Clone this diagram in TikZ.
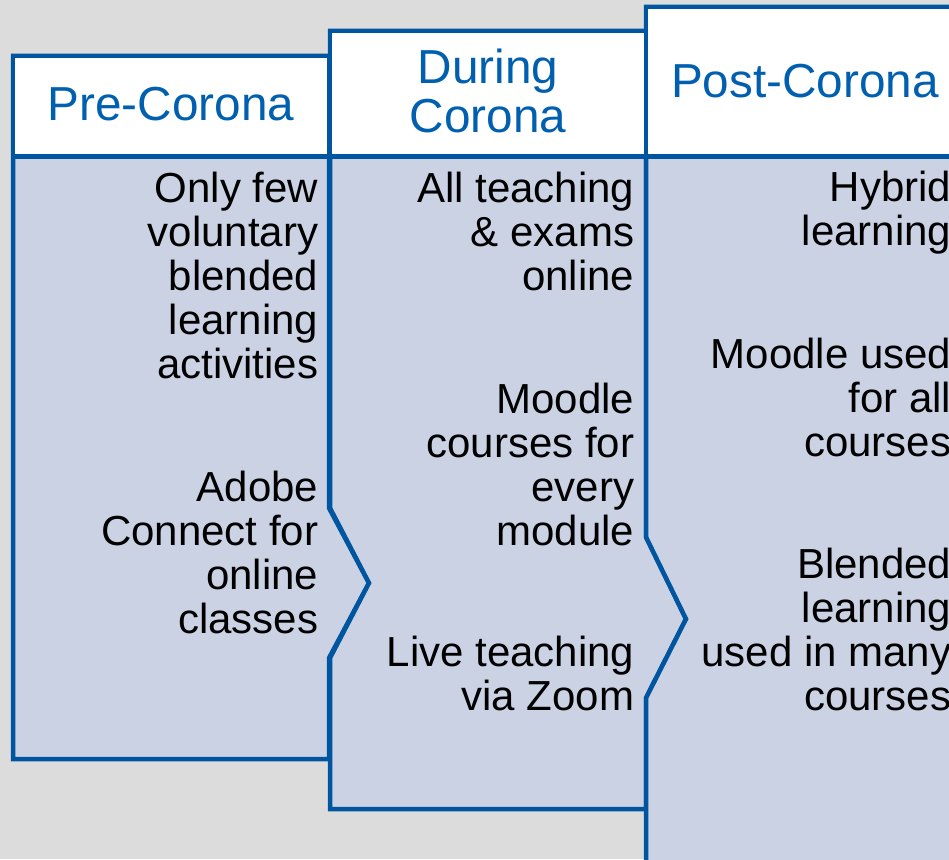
\documentclass[tikz,border=0pt]{standalone}
\usepackage{fontspec}
\setmainfont{Liberation Sans}
\definecolor{bgc}{HTML}{DCDCDC}
\definecolor{edgec}{HTML}{0055A0}
\definecolor{bodyc}{HTML}{CBD2E4}
\definecolor{headc}{HTML}{0060AF}
\begin{document}
\begin{tikzpicture}[x=1pt,y=-1pt,line width=4.5pt,line join=miter,
  colshape/.style={fill=bodyc,draw=edgec},
  headbox/.style={fill=white,draw=edgec},
  headtxt/.style={text=headc,font=\fontsize{47.7}{49}\selectfont,align=center,inner sep=0pt},
  bodytxt/.style={text=black,font=\fontsize{42}{44}\selectfont,align=right,inner sep=0pt,anchor=base east}]
\useasboundingbox (0,0) rectangle (949,859);
\clip (0,0) rectangle (949,859);
\fill[bgc] (0,0) rectangle (949,859);
% column shapes
\path[colshape] (13,56) -- (329,56) -- (329,508) -- (369,583) -- (329,658) -- (329,759) -- (13,759) -- cycle;
\path[colshape] (330,31) -- (646,31) -- (646,537) -- (686,619) -- (646,698) -- (646,809) -- (330,809) -- (330,658) -- (369,583) -- (330,508) -- cycle;
\path[colshape] (646,7) -- (975,7) -- (975,890) -- (646,890) -- (646,698) -- (686,619) -- (646,537) -- cycle;
% headers
\path[headbox] (13,56) rectangle (329,156.5);
\path[headbox] (330,31) rectangle (646,156.5);
\path[headbox] (646,7) rectangle (975,156.5);
\node[headtxt,anchor=base] (h1) at (171,120) {Pre-Corona};
\node[headtxt,anchor=base] (h2) at (488,132) {During\\Corona};
\node[headtxt,anchor=base] (h3) at (805,97) {Post-Corona};
% body texts (anchored at the baseline of the last line)
\node[bodytxt] (a1) at (320.5,378.7) {Only few\\voluntary\\blended\\learning\\activities};
\node[bodytxt] (a2) at (320.5,633.7) {Adobe\\Connect for\\online\\classes};
\node[bodytxt] (b1) at (636.5,290.7) {All teaching\\\& exams\\online};
\node[bodytxt] (b2) at (636.5,545.3) {Moodle\\courses for\\every\\module};
\node[bodytxt] (b3) at (636.5,710.7) {Live teaching\\via Zoom};
\node[bodytxt] (c1) at (953.5,245.5) {Hybrid\\learning};
\node[bodytxt] (c2) at (953.5,456.3) {Moodle used\\for all\\courses};
\node[bodytxt] (c3) at (953.5,710.3) {Blended\\learning\\used in many\\courses};
\end{tikzpicture}
\end{document}
